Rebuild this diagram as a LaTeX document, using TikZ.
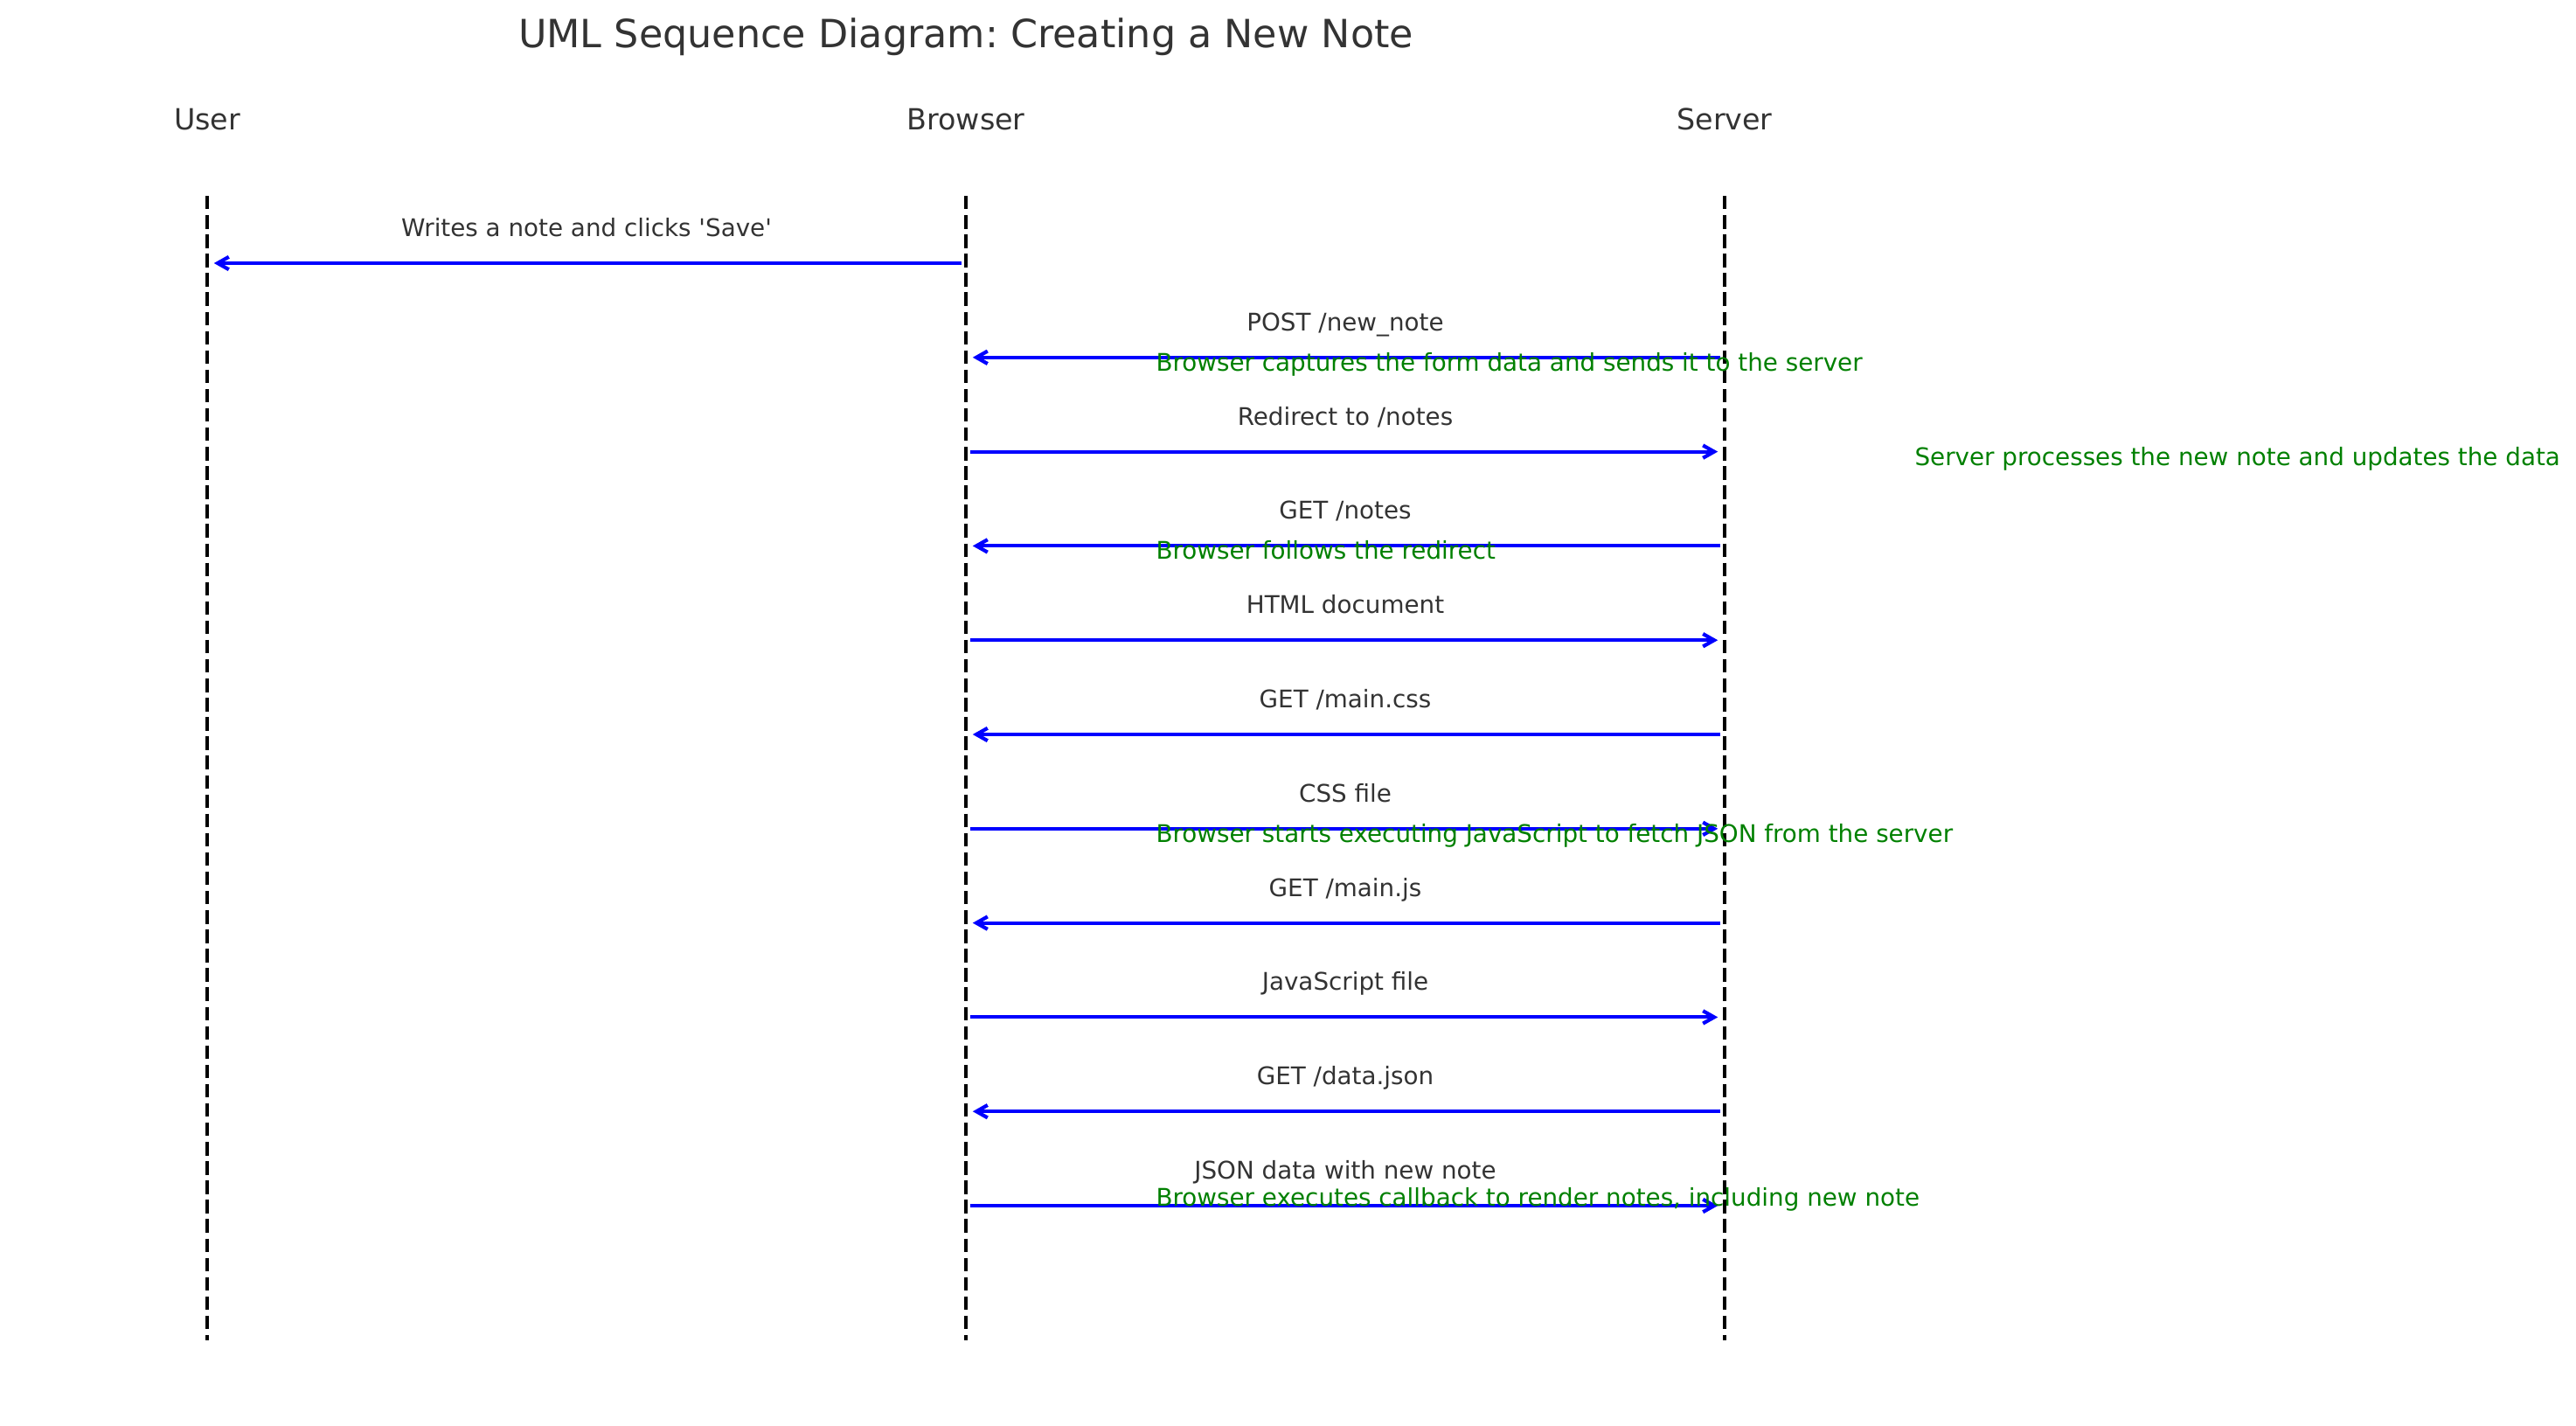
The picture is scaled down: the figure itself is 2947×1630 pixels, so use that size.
\documentclass[tikz,border=0pt]{standalone}
\usepackage{fontspec}
\setmainfont{DejaVu Sans}[Ligatures=TeXOff]
\usetikzlibrary{arrows.meta}
\definecolor{txtgray}{HTML}{333333}
\definecolor{notegreen}{HTML}{008000}
\definecolor{msgblue}{HTML}{0000FF}
\frenchspacing
\begin{document}
\begin{tikzpicture}[x=0.36pt,y=-0.36pt,
  lifeline/.style={line width=1.5pt, dash pattern=on 5.55pt off 2.4pt, black},
  msg/.style={draw=msgblue, line width=1.5pt, -{Straight Barb[length=4.6pt,width=5.2pt]}, shorten >=2.8pt, shorten <=1.8pt},
  lbl/.style={anchor=base, inner sep=0pt, text=txtgray, font=\fontsize{10}{12}\selectfont},
  notetext/.style={anchor=base west, inner sep=0pt, text=notegreen, font=\fontsize{10}{12}\selectfont},
  actor/.style={anchor=base, inner sep=0pt, text=txtgray, font=\fontsize{12}{14}\selectfont},
  titletext/.style={anchor=base, inner sep=0pt, text=txtgray, font=\fontsize{16}{19}\selectfont}]
\useasboundingbox (0,0) rectangle (2947,1630);

% title and actors
\node[titletext] (title) at (1105,54) {UML Sequence Diagram: Creating a New Note};
\node[actor] (user) at (237,148) {User};
\node[actor] (browser) at (1105,148) {Browser};
\node[actor] (server) at (1973,148) {Server};

% lifelines
\coordinate (Utop) at (237,224);  \coordinate (Ubot) at (237,1533);
\coordinate (Btop) at (1105,224); \coordinate (Bbot) at (1105,1533);
\coordinate (Stop) at (1973,224); \coordinate (Sbot) at (1973,1533);
\draw[lifeline] (Utop) -- (Ubot);
\draw[lifeline] (Btop) -- (Bbot);
\draw[lifeline] (Stop) -- (Sbot);

% message anchor points
\foreach \k/\y in {1/301,2/408.8,3/516.6,4/624.4,5/732.2,6/840,7/947.8,8/1055.6,9/1163.4,10/1271.2,11/1379}{
  \coordinate (u\k) at (237,\y);
  \coordinate (b\k) at (1105,\y);
  \coordinate (s\k) at (1973,\y);
}

% messages
\draw[msg] (b1) -- (u1);
\draw[msg] (s2) -- (b2);
\draw[msg] (b3) -- (s3);
\draw[msg] (s4) -- (b4);
\draw[msg] (b5) -- (s5);
\draw[msg] (s6) -- (b6);
\draw[msg] (b7) -- (s7);
\draw[msg] (s8) -- (b8);
\draw[msg] (b9) -- (s9);
\draw[msg] (s10) -- (b10);
\draw[msg] (b11) -- (s11);

% message labels
\node[lbl] (l1) at (671,270.5) {Writes a note and clicks 'Save'};
\node[lbl] (l2) at (1539,378.3) {POST /new\_note};
\node[lbl] (l3) at (1539,486.1) {Redirect to /notes};
\node[lbl] (l4) at (1539,593.9) {GET /notes};
\node[lbl] (l5) at (1539,701.7) {HTML document};
\node[lbl] (l6) at (1539,809.5) {GET /main.css};
\node[lbl] (l7) at (1539,917.3) {CSS file};
\node[lbl] (l8) at (1539,1025.1) {GET /main.js};
\node[lbl] (l9) at (1539,1132.9) {JavaScript file};
\node[lbl] (l10) at (1539,1240.7) {GET /data.json};
\node[lbl] (l11) at (1539,1348.5) {JSON data with new note};

% notes
\node[notetext] (n1) at (1322,424.3) {Browser captures the form data and sends it to the server};
\node[notetext] (n2) at (2190,532.1) {Server processes the new note and updates the data};
\node[notetext] (n3) at (1322,639.9) {Browser follows the redirect};
\node[notetext] (n4) at (1322,963.3) {Browser starts executing JavaScript to fetch JSON from the server};
\node[notetext] (n5) at (1322,1379.3) {Browser executes callback to render notes, including new note};
\end{tikzpicture}
\end{document}
